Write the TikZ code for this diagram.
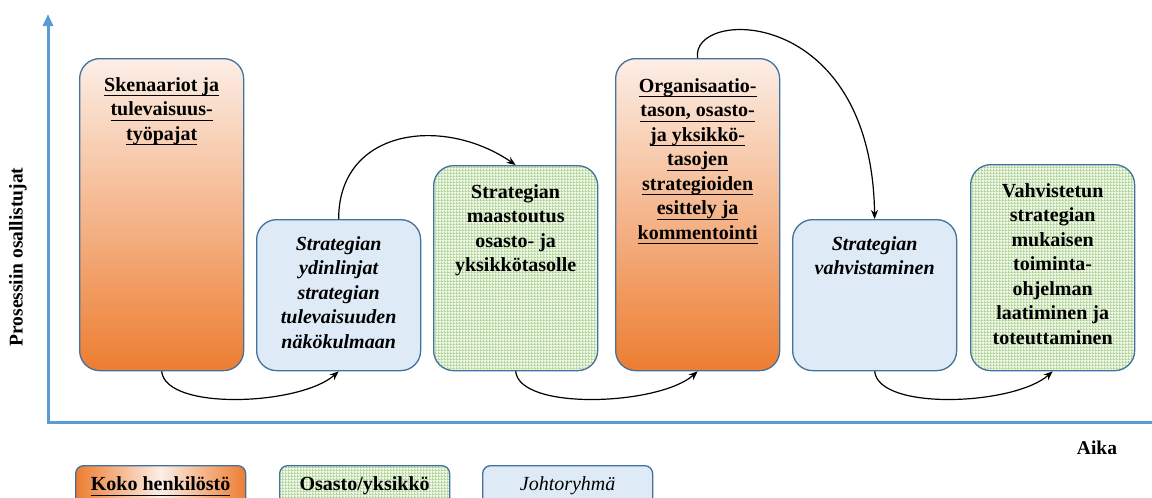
\documentclass[tikz,border=0pt]{standalone}
\usepackage{fontspec}
\setmainfont{Liberation Serif}
\usetikzlibrary{arrows.meta,patterns}

\definecolor{axisblue}{RGB}{91,155,213}
\definecolor{edgeblue}{RGB}{65,113,156}
\definecolor{paleblue}{RGB}{222,235,247}
\definecolor{orangedark}{RGB}{237,125,49}
\definecolor{orangelight}{RGB}{252,238,230}
\definecolor{palegreen}{RGB}{238,246,232}
\definecolor{gridgreen}{RGB}{178,214,152}

% fine green grid used for the unit-level stages
\pgfdeclarepatternformonly{finegrid}{\pgfpointorigin}{\pgfpoint{3pt}{3pt}}{\pgfpoint{3pt}{3pt}}{%
  \pgfpathrectangle{\pgfpointorigin}{\pgfpoint{3pt}{1.1pt}}%
  \pgfpathrectangle{\pgfpointorigin}{\pgfpoint{1.1pt}{3pt}}%
  \pgfusepath{fill}}

% underline at a fixed distance below the baseline
\newcommand{\ulx}[1]{\underline{\smash{#1}\rule[-3pt]{0pt}{17pt}}}

\tikzset{
  stagebox/.style={draw=edgeblue, line width=1.3pt, rounded corners=20pt,
    minimum width=164pt, inner sep=0pt, anchor=north west},
  orangebox/.style={stagebox, top color=orangelight, bottom color=orangedark},
  bluebox/.style={stagebox, fill=paleblue},
  gridfill/.style={preaction={fill=palegreen}, pattern=finegrid, pattern color=gridgreen},
  greenbox/.style={stagebox, gridfill},
  stagetext/.style={align=center, inner sep=0pt, anchor=north,
    font=\fontsize{20}{24.5}\selectfont\bfseries},
  flow/.style={draw=black, line width=1.2pt, -{Stealth[length=9pt,width=7pt]}},
  axis/.style={draw=axisblue, line width=3pt},
  keybox/.style={draw=edgeblue, line width=1.3pt, rounded corners=8pt,
    minimum width=170pt, minimum height=40pt, anchor=north west,
    text height=14pt, text depth=4pt, font=\fontsize{20}{24}\selectfont},
}

\begin{document}
\begin{tikzpicture}[x=1pt,y=-1pt]
\useasboundingbox (0,0) rectangle (1152,498);
\clip (0,0) rectangle (1152,498);

% axes
\coordinate (ytop) at (48,14);
\coordinate (origin) at (48,422);
\coordinate (xend) at (1152,422);
\draw[axis, {Triangle[length=12pt,width=10pt]}-] (ytop) -- (origin) -- (xend);
\node[font=\fontsize{19.5}{20}\selectfont\bfseries, rotate=90] (ylabel) at (18,257) {Prosessiin osallistujat};
\node[font=\fontsize{19.5}{20}\selectfont\bfseries] (xlabel) at (1097,448) {Aika};

% stages
\node[orangebox, minimum height=312pt] (s1) at (79,58) {};
\node[bluebox,   minimum height=151pt] (s2) at (256,219) {};
\node[greenbox,  minimum height=205pt] (s3) at (433,165) {};
\node[orangebox, minimum height=312pt] (s4) at (615,58) {};
\node[bluebox,   minimum height=151pt] (s5) at (792,219) {};
\node[greenbox,  minimum height=206pt] (s6) at (970,164) {};

\node[stagetext] (t1) at ([yshift=-19pt]s1.north) {\ulx{Skenaariot ja}\\\ulx{tulevaisuus-}\\\ulx{työpajat}};
\node[stagetext, font=\fontsize{20}{24.5}\selectfont\bfseries\itshape] (t2) at ([yshift=-17pt]s2.north)
  {Strategian\\ydinlinjat\\strategian\\tulevaisuuden\\näkökulmaan};
\node[stagetext] (t3) at ([yshift=-19pt]s3.north) {Strategian\\maastoutus\\osasto- ja\\yksikkötasolle};
\node[stagetext] (t4) at ([yshift=-20pt]s4.north)
  {\ulx{Organisaatio-}\\\ulx{tason, osasto-}\\\ulx{ja yksikkö-}\\\ulx{tasojen}\\\ulx{strategioiden}\\\ulx{esittely ja}\\\ulx{kommentointi}};
\node[stagetext, font=\fontsize{20}{24.5}\selectfont\bfseries\itshape] (t5) at ([yshift=-17pt]s5.north)
  {Strategian\\vahvistaminen};
\node[stagetext] (t6) at ([yshift=-19pt]s6.north)
  {Vahvistetun\\strategian\\mukaisen\\toiminta-\\ohjelman\\laatiminen ja\\toteuttaminen};

% connectors
\draw[flow] (s1.south) .. controls +(4,40) and +(-38,34) .. (s2.south);
\draw[flow] (s2.north) .. controls +(0,-90) and +(-73,-50) .. (s3.north);
\draw[flow] (s3.south) .. controls +(4,40) and +(-38,34) .. (s4.south);
\draw[flow] (s4.north) .. controls +(-8,-50) and +(-3,-215) .. (s5.north);
\draw[flow] (s5.south) .. controls +(4,40) and +(-38,34) .. (s6.south);

% legend
\node[keybox, left color=orangedark, right color=orangedark, middle color=orangelight] (k1) at (75,465)
  {\bfseries\ulx{Koko henkilöstö}};
\node[keybox, gridfill] (k2) at (279,465) {};
\node[font=\fontsize{20}{24}\selectfont\bfseries, text height=14pt, text depth=4pt] (k2t) at (k2.center) {Osasto/yksikkö};
\node[keybox, fill=paleblue] (k3) at (482,465) {\itshape Johtoryhmä};
\end{tikzpicture}
\end{document}
